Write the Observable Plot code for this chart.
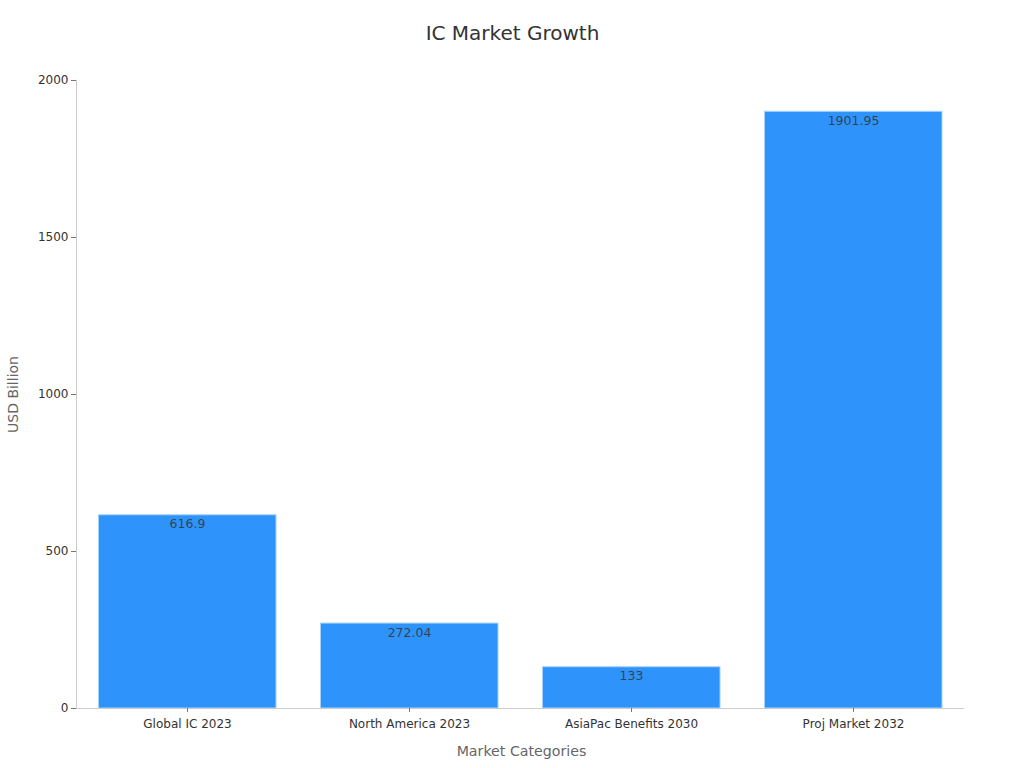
<!DOCTYPE html>
<html>
<head>
<meta charset="utf-8">
<script src="https://cdn.jsdelivr.net/npm/d3@7"></script>
<script src="https://cdn.jsdelivr.net/npm/@observablehq/plot@0.6"></script>
<style>
html,body{margin:0;padding:0;background:#fff}
svg{display:block}
</style>
</head>
<body>
<div id="chart"></div>
<script>
const categories = ["Global IC 2023","North America 2023","AsiaPac Benefits 2030","Proj Market 2032"];
const values = [616.9,272.04,133,1901.95];
const yTicks = [0,500,1000,1500,2000];
const chartTitle = "IC Market Growth";
const xTitle = "Market Categories";
const yTitle = "USD Billion";
const rows = categories.map((c,i)=>({c,v:values[i]}));
const font = "'DejaVu Sans', sans-serif";

const plot = Plot.plot({
  width:1024, height:768,
  marginTop:80, marginBottom:60, marginLeft:76, marginRight:60,
  style:{fontFamily:font, fontSize:"12px", background:"#fff", color:"#222"},
  x:{domain:categories, paddingInner:0.2, paddingOuter:0.1, align:0.5, label:null},
  y:{domain:[0,2000], label:null},
  marks:[
    Plot.barY(rows,{x:"c",y:"v",fill:"#2e93fa",stroke:"#a5d2fd",strokeWidth:1,insetLeft:0.5,insetRight:0,insetTop:0.5}),
    Plot.frame({anchor:"left",stroke:"#ccc"}),
    Plot.ruleY([0],{stroke:"#ccc"}),
    Plot.axisY({ticks:yTicks,tickFormat:"d",tickSize:5,tickPadding:3,stroke:"#777",fill:"#333",fontSize:12,label:null}),
    Plot.axisX({tickSize:4,tickPadding:7,stroke:"#777",fill:"#333",fontSize:12,label:null}),
    Plot.text(rows,{x:"c",y:"v",text:d=>String(d.v),dy:9.5,fill:"#333",fillOpacity:0.85,fontSize:12.5,lineAnchor:"middle"}),
    Plot.text([chartTitle],{frameAnchor:"top",dy:-47,dx:-8,fill:"#333",fontSize:20,lineAnchor:"middle"}),
    Plot.text([xTitle],{frameAnchor:"bottom",dy:43,dx:1,fill:"#666",fontSize:14.2,lineAnchor:"middle"}),
    Plot.text([yTitle],{frameAnchor:"left",dx:-63,dy:0,rotate:-90,textAnchor:"middle",fill:"#666",fontSize:14,lineAnchor:"middle"})
  ]
});
document.getElementById("chart").append(plot);
</script>
</body>
</html>
